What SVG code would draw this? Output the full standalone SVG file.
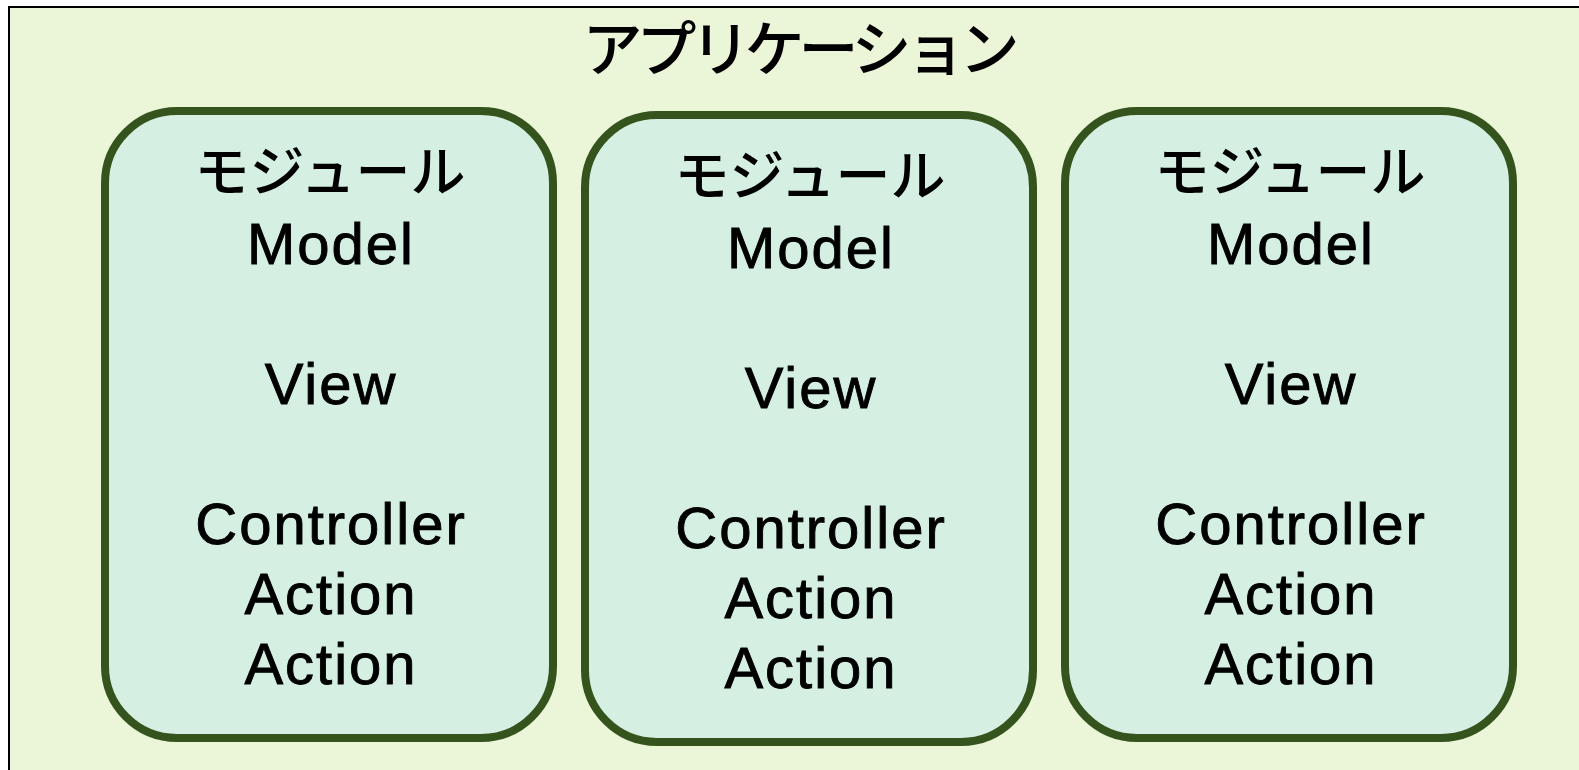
<svg xmlns="http://www.w3.org/2000/svg" width="1579" height="770" viewBox="0 0 1579 770">
<style>
.app{fill:#EBF5D8;stroke:#000;stroke-width:2}
.mod{fill:#D5F0E2;stroke:#35531C;stroke-width:8}
.jp{font-family:"Noto Sans CJK JP","Noto Sans",sans-serif;font-weight:500;fill:#000;text-anchor:middle}
.en{font-family:"Liberation Sans",Arial,sans-serif;font-size:58px;letter-spacing:2px;fill:#000;stroke:#000;stroke-width:0.9px;text-anchor:middle}
</style>
<g id="app">
<rect class="app" x="9" y="7" width="1590" height="800"/>
<text class="jp" x="798" y="71" font-size="60" letter-spacing="-6">アプリケーション</text>
</g>
<g id="module1">
<rect class="mod" x="105" y="111" width="448" height="627" rx="72" ry="72"/>
<text class="jp" x="330" y="191" font-size="55">モジュール</text>
<text class="en" x="331" y="264">Model</text>
<text class="en" x="331" y="404">View</text>
<text class="en" x="331" y="544">Controller</text>
<text class="en" x="331" y="614">Action</text>
<text class="en" x="331" y="684">Action</text>
</g>
<g id="module2">
<rect class="mod" x="585" y="115" width="448" height="627" rx="72" ry="72"/>
<text class="jp" x="810" y="195" font-size="55">モジュール</text>
<text class="en" x="811" y="268">Model</text>
<text class="en" x="811" y="408">View</text>
<text class="en" x="811" y="548">Controller</text>
<text class="en" x="811" y="618">Action</text>
<text class="en" x="811" y="688">Action</text>
</g>
<g id="module3">
<rect class="mod" x="1065" y="111" width="448" height="627" rx="72" ry="72"/>
<text class="jp" x="1290" y="191" font-size="55">モジュール</text>
<text class="en" x="1291" y="264">Model</text>
<text class="en" x="1291" y="404">View</text>
<text class="en" x="1291" y="544">Controller</text>
<text class="en" x="1291" y="614">Action</text>
<text class="en" x="1291" y="684">Action</text>
</g>
<g id="connectors"/>
</svg>
